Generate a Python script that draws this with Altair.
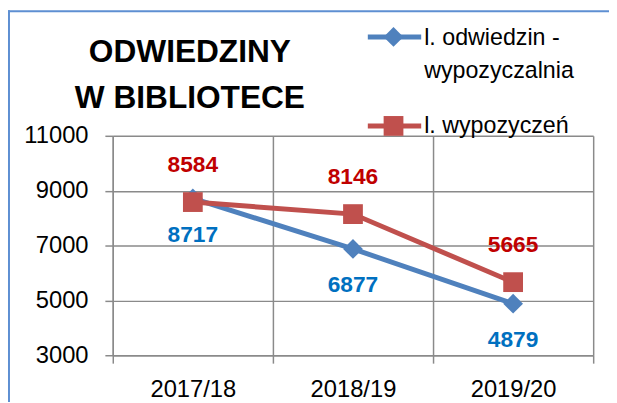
import altair as alt
import pandas as pd

categories = ["2017/18", "2018/19", "2019/20"]
series_names = ["l. odwiedzin -\nwypozyczalnia", "l. wypozyczeń"]
odwiedziny = [8717, 6877, 4879]
wypozyczenia = [8584, 8146, 5665]
series_values = [odwiedziny, wypozyczenia]
line_colors = ["#4F81BD", "#C0504D"]
label_colors = ["#0070C0", "#C00000"]
shapes = ["diamond", "square"]
label_dy = [37, -37]
y_ticks = [3000, 5000, 7000, 9000, 11000]
title_text = "ODWIEDZINY\nW BIBLIOTECE"

FONT = "Liberation Sans"
GRID = "#8a8a8a"
W, H = 486, 222

x_enc = alt.X(
    "category:N",
    sort=categories,
    scale=alt.Scale(type="band", paddingInner=0, paddingOuter=0, domain=categories),
    bandPosition=0.5,
    axis=alt.Axis(
        title=None, labelAngle=0, tickBand="extent", grid=True,
        gridColor=GRID, gridWidth=1.5, domainColor=GRID, domainWidth=1.5,
        tickColor=GRID, tickWidth=1.5, tickSize=8,
        labelFont=FONT, labelFontSize=24, labelColor="black", labelPadding=15,
    ),
)
y_enc = alt.Y(
    "value:Q",
    scale=alt.Scale(domain=[3000, 11000], nice=False, zero=False),
    axis=alt.Axis(
        title=None, values=y_ticks, grid=True, format="d",
        gridColor=GRID, gridWidth=1.5, domainColor=GRID, domainWidth=1.5,
        tickColor=GRID, tickWidth=1.5, tickSize=8,
        labelFont=FONT, labelFontSize=24, labelColor="black", labelPadding=17,
    ),
)

layers = []
for i, name in enumerate(series_names):
    df = pd.DataFrame({"category": categories, "value": series_values[i], "series": name})
    base = alt.Chart(df).encode(x=x_enc, y=y_enc)
    layers.append(base.mark_line(color=line_colors[i], strokeWidth=5))
    layers.append(base.mark_point(shape=shapes[i], size=400, filled=True, opacity=1,
                                  color=line_colors[i]))
for i, name in enumerate(series_names):
    df = pd.DataFrame({"category": categories, "value": series_values[i], "series": name})
    layers.append(
        alt.Chart(df).mark_text(font=FONT, fontSize=23, fontWeight="bold",
                                color=label_colors[i], dy=label_dy[i], baseline="middle")
        .encode(x=x_enc, y=y_enc, text="value:Q")
    )

# legend (manual)
leg_y = [-100, -10]
leg_text_y = [-92, -3]
for i, name in enumerate(series_names):
    ldf = pd.DataFrame({"name": [name]})
    lc = alt.Chart(ldf)
    layers.append(lc.mark_rule(color=line_colors[i], strokeWidth=5).encode(
        x=alt.value(258), x2=alt.value(312), y=alt.value(leg_y[i])))
    layers.append(lc.mark_point(shape=shapes[i], size=400, filled=True, opacity=1,
                                color=line_colors[i]).encode(
        x=alt.value(284), y=alt.value(leg_y[i])))
    layers.append(lc.mark_text(font=FONT, fontSize=23.5, align="left", baseline="alphabetic",
                               lineBreak="\n", lineHeight=34, color="black").encode(
        x=alt.value(315), y=alt.value(leg_text_y[i]), text="name:N"))

# title
tdf = pd.DataFrame({"t": [title_text]})
layers.append(alt.Chart(tdf).mark_text(font=FONT, fontSize=32, fontWeight="bold",
                                       align="center", baseline="alphabetic",
                                       lineBreak="\n", lineHeight=47, color="black").encode(
    x=alt.value(78), y=alt.value(-75), text="t:N"))

# border
bdf = pd.DataFrame({"b": [0]})
BORDER = "#5E8FD2"
layers.append(alt.Chart(bdf).mark_rule(color=BORDER, strokeWidth=2).encode(
    x=alt.value(-105), y=alt.value(-127), y2=alt.value(270)))
layers.append(alt.Chart(bdf).mark_rule(color=BORDER, strokeWidth=2).encode(
    x=alt.value(-106), x2=alt.value(505), y=alt.value(-126)))

chart = alt.layer(*layers).properties(
    width=W, height=H,
    padding={"left": 106, "top": 127, "right": 16, "bottom": 45},
    autosize=alt.AutoSizeParams(type="none"),
    background="white",
).configure_view(strokeOpacity=0)

chart.save("out.html", embed_options={"renderer": "svg", "actions": False})
